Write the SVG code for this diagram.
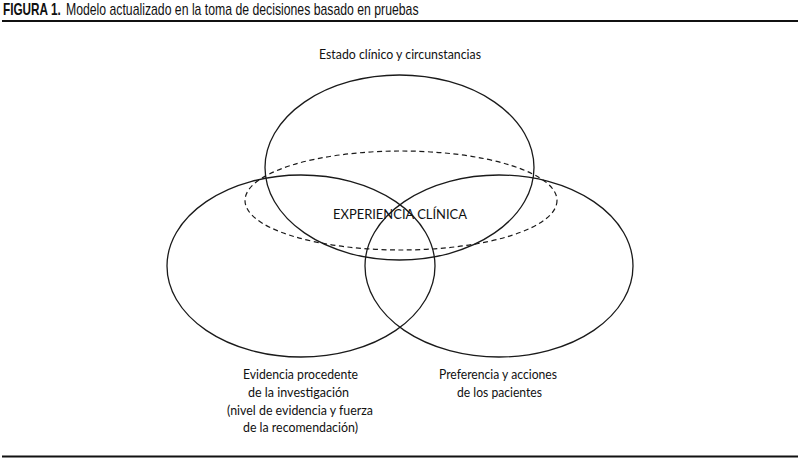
<svg xmlns="http://www.w3.org/2000/svg" width="800" height="464" viewBox="0 0 800 464">
<style>
.e{fill:none;stroke:#1a1a1a;stroke-width:1.3}
.d{fill:none;stroke:#1a1a1a;stroke-width:1.2;stroke-dasharray:5,3.5}
.t{font-family:Lato,"Open Sans","Liberation Sans",sans-serif;font-size:13px;fill:#111;text-anchor:middle}
.h{font-family:"Liberation Sans",Arial,sans-serif;font-size:16px;fill:#111}
</style>
<rect width="800" height="464" fill="#fff"/>
<g id="header">
<g transform="scale(0.78 1)">
<text class="h" x="3.85" y="15" font-weight="bold" textLength="74" lengthAdjust="spacingAndGlyphs">FIGURA 1.</text>
<text class="h" x="84.6" y="15" textLength="452" lengthAdjust="spacingAndGlyphs">Modelo actualizado en la toma de decisiones basado en pruebas</text>
</g>
<line x1="2" y1="21" x2="798" y2="21" stroke="#111" stroke-width="2"/>
</g>
<g id="top-ellipse">
<ellipse class="e" cx="399.5" cy="167.5" rx="134.5" ry="92.5"/>
<text class="t" x="400" y="59" textLength="162" lengthAdjust="spacingAndGlyphs">Estado clínico y circunstancias</text>
</g>
<g id="left-ellipse">
<ellipse class="e" cx="301" cy="266" rx="134" ry="91"/>
<text class="t" x="300.5" y="379" textLength="115" lengthAdjust="spacingAndGlyphs">Evidencia procedente</text>
<text class="t" x="298.5" y="397" textLength="101" lengthAdjust="spacingAndGlyphs">de la investigación</text>
<text class="t" x="300" y="414.5" textLength="146" lengthAdjust="spacingAndGlyphs">(nivel de evidencia y fuerza</text>
<text class="t" x="300.5" y="432" textLength="115" lengthAdjust="spacingAndGlyphs">de la recomendación)</text>
</g>
<g id="right-ellipse">
<ellipse class="e" cx="499" cy="266" rx="134" ry="91"/>
<text class="t" x="498" y="379" textLength="118" lengthAdjust="spacingAndGlyphs">Preferencia y acciones</text>
<text class="t" x="499.5" y="397" textLength="85" lengthAdjust="spacingAndGlyphs">de los pacientes</text>
</g>
<g id="dashed-ellipse">
<ellipse class="d" cx="401" cy="200.5" rx="156" ry="49.5"/>
<text class="t" x="400" y="219" textLength="134" lengthAdjust="spacingAndGlyphs">EXPERIENCIA CLÍNICA</text>
</g>
<g id="connectors"></g>
<g id="footer">
<line x1="2" y1="456.5" x2="798" y2="456.5" stroke="#111" stroke-width="2"/>
</g>
</svg>
